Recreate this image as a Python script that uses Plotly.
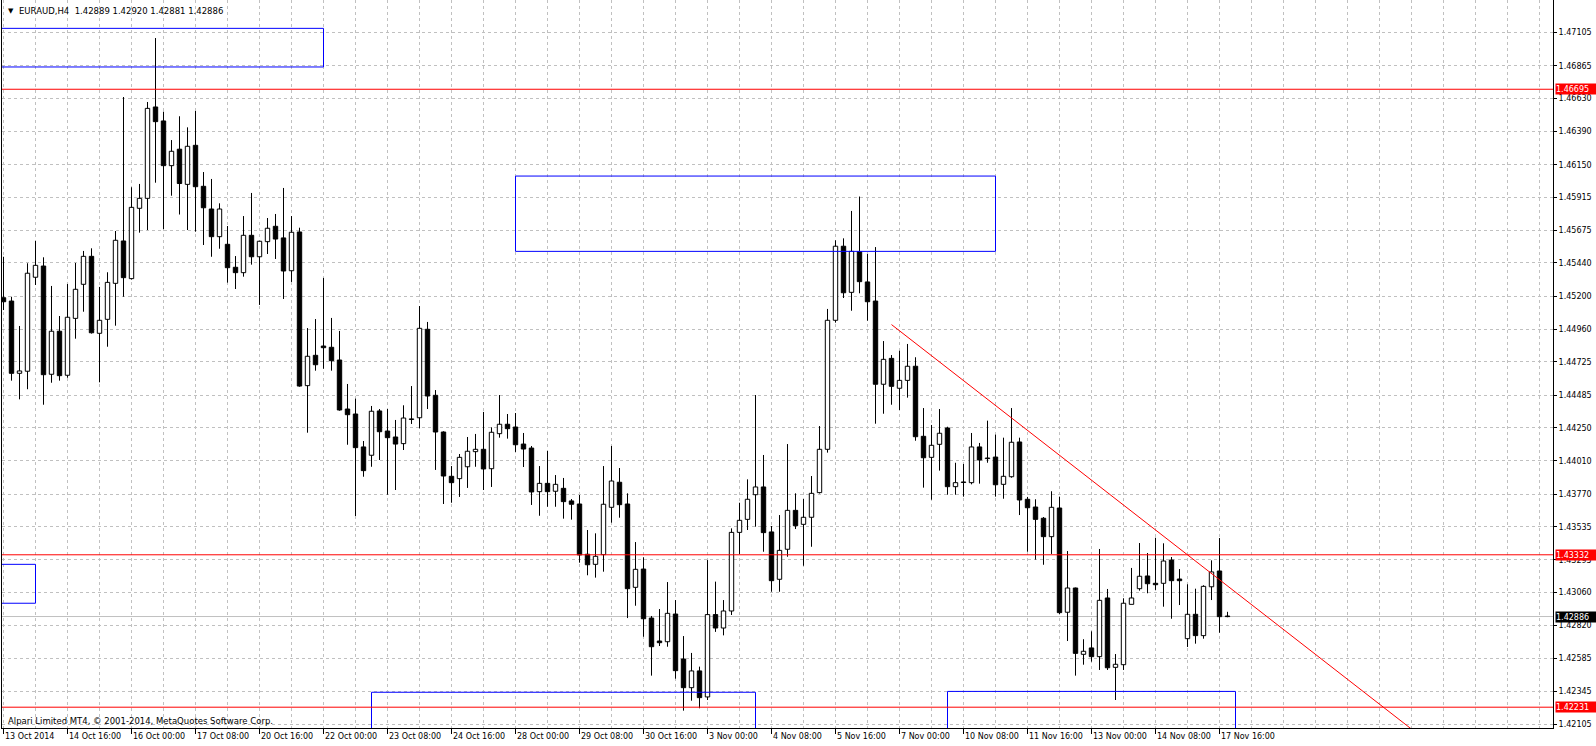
import plotly.graph_objects as go

# ---------------- data (EURAUD, H4) ----------------
opens = [1.45189, 1.45165, 1.44643, 1.44658, 1.45337, 1.45418, 1.44636, 1.44947, 1.44629, 1.45040,
         1.45286, 1.45488, 1.44932, 1.45033, 1.45293, 1.45599, 1.45327, 1.45835, 1.45907, 1.46567,
         1.46466, 1.46143, 1.46262, 1.46008, 1.46290, 1.45994, 1.45830, 1.45630, 1.45575, 1.45409,
         1.45370, 1.45640, 1.45485, 1.45594, 1.45705, 1.45621, 1.45384, 1.45664, 1.44554, 1.44773,
         1.44840, 1.44831, 1.44739, 1.44385, 1.44349, 1.44111, 1.44051, 1.44371, 1.44226, 1.44183,
         1.44135, 1.44311, 1.44322, 1.44961, 1.44484, 1.44219, 1.43899, 1.43882, 1.43968, 1.44077,
         1.44094, 1.43954, 1.44207, 1.44275, 1.44255, 1.44132, 1.44103, 1.43788, 1.43848, 1.43791,
         1.43812, 1.43721, 1.43699, 1.43336, 1.43263, 1.43333, 1.43675, 1.43856, 1.43699, 1.43097,
         1.43229, 1.42875, 1.42709, 1.42704, 1.42904, 1.42579, 1.42372, 1.42493, 1.42305, 1.42900,
         1.42803, 1.42926, 1.43494, 1.43588, 1.43766, 1.43822, 1.43497, 1.43155, 1.43372, 1.43653,
         1.43552, 1.43603, 1.43781, 1.44094, 1.45026, 1.45561, 1.45228, 1.45522, 1.45303, 1.45165,
         1.44564, 1.44751, 1.44535, 1.44592, 1.44694, 1.44188, 1.44036, 1.44130, 1.44248, 1.43824,
         1.43856, 1.43853, 1.44111, 1.44029, 1.44038, 1.43841, 1.43896, 1.44147, 1.43733, 1.43677,
         1.43596, 1.43463, 1.43670, 1.42917, 1.43092, 1.42613, 1.42659, 1.42596, 1.43020, 1.42519,
         1.42538, 1.42974, 1.43087, 1.43179, 1.43126, 1.43126, 1.43294, 1.43157, 1.42726, 1.42902,
         1.42748, 1.43101, 1.43215, 1.42889]
highs = [1.45485, 1.45196, 1.44985, 1.45438, 1.45599, 1.45481, 1.45274, 1.45057, 1.45288, 1.45440,
         1.45527, 1.45546, 1.45267, 1.45373, 1.45671, 1.46639, 1.45987, 1.46011, 1.46603, 1.47065,
         1.46533, 1.46328, 1.46500, 1.46420, 1.46538, 1.46097, 1.46047, 1.45871, 1.45707, 1.45490,
         1.45779, 1.45946, 1.45600, 1.45765, 1.45794, 1.45982, 1.45779, 1.45695, 1.44970, 1.45035,
         1.45332, 1.45043, 1.44949, 1.44566, 1.44460, 1.44154, 1.44407, 1.44385, 1.44385, 1.44306,
         1.44412, 1.44551, 1.45129, 1.45014, 1.44522, 1.44224, 1.43973, 1.44060, 1.44183, 1.44205,
         1.44364, 1.44253, 1.44486, 1.44349, 1.44356, 1.44212, 1.44118, 1.43973, 1.44082, 1.43908,
         1.43887, 1.43735, 1.43764, 1.43511, 1.43487, 1.43973, 1.44118, 1.43959, 1.43776, 1.43424,
         1.43314, 1.42890, 1.42940, 1.43135, 1.43005, 1.42745, 1.42623, 1.42524, 1.43294, 1.43138,
         1.43005, 1.43523, 1.43708, 1.43877, 1.44486, 1.44053, 1.43540, 1.43619, 1.44132, 1.43776,
         1.43735, 1.43901, 1.44262, 1.45108, 1.45604, 1.45618, 1.45816, 1.45920, 1.45505, 1.45555,
         1.44876, 1.44775, 1.44806, 1.44855, 1.44759, 1.44392, 1.44270, 1.44385, 1.44257, 1.43997,
         1.43988, 1.44212, 1.44140, 1.44301, 1.44200, 1.44178, 1.44392, 1.44178, 1.43750, 1.43733,
         1.43605, 1.43791, 1.43752, 1.43359, 1.43095, 1.42722, 1.42779, 1.43374, 1.43085, 1.42615,
         1.43018, 1.43237, 1.43417, 1.43345, 1.43455, 1.43415, 1.43316, 1.43229, 1.43119, 1.43087,
         1.43112, 1.43292, 1.43453, 1.42920]
lows = [1.45100, 1.44590, 1.44455, 1.44528, 1.45281, 1.44416, 1.44575, 1.44590, 1.44611, 1.44893,
        1.45088, 1.44930, 1.44578, 1.44835, 1.44987, 1.45196, 1.45320, 1.45659, 1.45678, 1.46020,
        1.45685, 1.45926, 1.45790, 1.45678, 1.45666, 1.45570, 1.45485, 1.45543, 1.45298, 1.45252,
        1.45341, 1.45428, 1.45137, 1.45505, 1.45469, 1.45180, 1.45303, 1.44546, 1.44214, 1.44662,
        1.44676, 1.44662, 1.44373, 1.44127, 1.43612, 1.43896, 1.43968, 1.44017, 1.43766, 1.43800,
        1.44089, 1.44277, 1.44246, 1.44385, 1.43945, 1.43699, 1.43708, 1.43750, 1.43815, 1.43968,
        1.43800, 1.43822, 1.44178, 1.44171, 1.44075, 1.43966, 1.43692, 1.43614, 1.43679, 1.43679,
        1.43593, 1.43586, 1.43275, 1.43184, 1.43167, 1.43210, 1.43564, 1.43600, 1.42875, 1.42964,
        1.42740, 1.42459, 1.42673, 1.42668, 1.42437, 1.42206, 1.42278, 1.42223, 1.42283, 1.42775,
        1.42750, 1.42897, 1.43338, 1.43511, 1.43535, 1.43354, 1.43065, 1.43065, 1.43318, 1.43518,
        1.43253, 1.43390, 1.43775, 1.44070, 1.45009, 1.45187, 1.45095, 1.45221, 1.45023, 1.44279,
        1.44351, 1.44416, 1.44378, 1.44467, 1.44156, 1.43817, 1.43730, 1.43940, 1.43766, 1.43766,
        1.43752, 1.43841, 1.43846, 1.43997, 1.43752, 1.43737, 1.43889, 1.43619, 1.43354, 1.43297,
        1.43260, 1.43338, 1.42904, 1.42709, 1.42459, 1.42538, 1.42560, 1.42500, 1.42500, 1.42283,
        1.42500, 1.42974, 1.43073, 1.43054, 1.43078, 1.42957, 1.42870, 1.42969, 1.42666, 1.42690,
        1.42726, 1.43005, 1.42769, 1.42881]
closes = [1.45160, 1.44643, 1.44660, 1.45366, 1.45423, 1.44633, 1.44947, 1.44626, 1.45048, 1.45250,
          1.45488, 1.44936, 1.45026, 1.45300, 1.45604, 1.45334, 1.45842, 1.45907, 1.46557, 1.46461,
          1.46143, 1.46247, 1.46014, 1.46283, 1.45991, 1.45839, 1.45630, 1.45830, 1.45406, 1.45370,
          1.45640, 1.45485, 1.45597, 1.45691, 1.45613, 1.45382, 1.45662, 1.44551, 1.44766, 1.44705,
          1.44828, 1.44734, 1.44378, 1.44344, 1.44106, 1.43940, 1.44369, 1.44221, 1.44178, 1.44132,
          1.44320, 1.44312, 1.44968, 1.44479, 1.44219, 1.43901, 1.43853, 1.44036, 1.44080, 1.44094,
          1.43952, 1.44217, 1.44275, 1.44243, 1.44127, 1.44096, 1.43786, 1.43848, 1.43788, 1.43841,
          1.43716, 1.43697, 1.43331, 1.43260, 1.43321, 1.43697, 1.43865, 1.43694, 1.43087, 1.43227,
          1.42870, 1.42668, 1.42697, 1.42909, 1.42495, 1.42372, 1.42493, 1.42300, 1.42900, 1.42803,
          1.42926, 1.43494, 1.43581, 1.43733, 1.43822, 1.43492, 1.43145, 1.43364, 1.43653, 1.43542,
          1.43603, 1.43776, 1.44094, 1.45026, 1.45561, 1.45225, 1.45524, 1.45305, 1.45160, 1.44564,
          1.44744, 1.44549, 1.44592, 1.44694, 1.44185, 1.44033, 1.44123, 1.44210, 1.43824, 1.43853,
          1.43856, 1.44111, 1.44017, 1.44029, 1.43838, 1.43899, 1.44145, 1.43728, 1.43672, 1.43588,
          1.43463, 1.43675, 1.42914, 1.43092, 1.42620, 1.42635, 1.42596, 1.43003, 1.42516, 1.42541,
          1.42982, 1.43020, 1.43177, 1.43123, 1.43116, 1.43287, 1.43145, 1.43145, 1.42902, 1.42748,
          1.43104, 1.43208, 1.42885, 1.42886]

date_label_bars = [0, 8, 16, 24, 32, 40, 48, 56, 64, 72, 80, 88, 96, 104, 112, 120, 128, 136, 144, 152]
date_labels = ["13 Oct 2014", "14 Oct 16:00", "16 Oct 00:00", "17 Oct 08:00", "20 Oct 16:00",
               "22 Oct 00:00", "23 Oct 08:00", "24 Oct 16:00", "28 Oct 00:00", "29 Oct 08:00",
               "30 Oct 16:00", "3 Nov 00:00", "4 Nov 08:00", "5 Nov 16:00", "7 Nov 00:00",
               "10 Nov 08:00", "11 Nov 16:00", "13 Nov 00:00", "14 Nov 08:00", "17 Nov 16:00"]

price_ticks = ["1.47105", "1.46865", "1.46630", "1.46390", "1.46150", "1.45915", "1.45675", "1.45440",
               "1.45200", "1.44960", "1.44725", "1.44485", "1.44250", "1.44010", "1.43770", "1.43535",
               "1.43295", "1.43060", "1.42820", "1.42585", "1.42345", "1.42105"]

hlines_red = [1.46695, 1.43332, 1.42231]
bid_price = 1.42886

# rectangles: (bar_from, bar_to, price_low, price_high)
rect_bar0 = [-6, 64, -6, 46, 118]
rect_bar1 = [40, 124, 4, 94, 154]
rect_lo = [1.46856, 1.45524, 1.42982, 1.41500, 1.41500]
rect_hi = [1.47135, 1.46068, 1.43263, 1.42339, 1.42345]

# trend line anchors (bar, price)
trend_bar = [111, 200]
trend_price = [1.44995, 1.40994]

title_text = "EURAUD,H4\u00a0\u00a01.42889 1.42920 1.42881 1.42886"
copyright_text = "Alpari Limited MT4, \u00a9 2001-2014, MetaQuotes Software Corp."

# ---------------- build ----------------
FONT = "DejaVu Sans"
n = len(opens)
bars = list(range(n))
MIN_H = 0.00004

def body(i):
    lo, hi = min(opens[i], closes[i]), max(opens[i], closes[i])
    h = hi - lo
    if h < MIN_H:
        lo -= (MIN_H - h) / 2
        h = MIN_H
    return lo, h

up_x, up_b, up_h, dn_x, dn_b, dn_h = [], [], [], [], [], []
wx, wy = [], []
for i in bars:
    lo, h = body(i)
    if closes[i] >= opens[i]:
        up_x.append(i); up_b.append(lo); up_h.append(h)
    else:
        dn_x.append(i); dn_b.append(lo); dn_h.append(h)
    top = max(opens[i], closes[i]); bot = min(opens[i], closes[i])
    wx += [i, i, None, i, i, None]
    wy += [highs[i], top, None, bot, lows[i], None]

fig = go.Figure()
fig.add_trace(go.Scatter(x=wx, y=wy, mode="lines", line=dict(color="black", width=1),
                         hoverinfo="skip"))
fig.add_trace(go.Bar(x=up_x, base=up_b, y=up_h, width=0.55,
                     marker=dict(color="white", line=dict(color="black", width=1)), hoverinfo="skip"))
fig.add_trace(go.Bar(x=dn_x, base=dn_b, y=dn_h, width=0.55,
                     marker=dict(color="black", line=dict(color="black", width=1)), hoverinfo="skip"))

# pixel geometry: plot from x=2..1553, y=0..728 ; 8 px per bar
L, R, T, B = 2, 43, 0, 18
W = 1596 - L - R
x0 = -0.1875
x1 = x0 + W / 8.0
y_top = 1.473398
y_bot = y_top - 728 * 0.00007224

grid = "#C0C0C0"
minor_vals = [v for v in range(0, 196, 4) if v not in date_label_bars]
fig.update_xaxes(range=[x0, x1], tickmode="array", tickvals=date_label_bars, ticks="outside",
                 ticklen=5, tickcolor="black", showticklabels=False, showgrid=True,
                 gridcolor=grid, griddash="3px,3px", gridwidth=1, zeroline=False,
                 showline=True, linecolor="black", linewidth=1,
                 minor=dict(tickmode="array", tickvals=minor_vals, showgrid=True,
                            gridcolor=grid, griddash="3px,3px", ticks=""))
fig.update_yaxes(range=[y_bot, y_top], side="right", tickmode="array",
                 tickvals=[float(t) for t in price_ticks], ticktext=price_ticks,
                 ticks="outside", ticklen=3, tickcolor="black", showgrid=True,
                 gridcolor=grid, griddash="3px,3px", gridwidth=1, zeroline=False,
                 showline=True, mirror=True, linecolor="black", linewidth=1,
                 tickfont=dict(family=FONT, size=8, color="black"))

shapes = []
for b0, b1, lo, hi in zip(rect_bar0, rect_bar1, rect_lo, rect_hi):
    shapes.append(dict(type="rect", xref="x", yref="y", x0=b0, x1=b1, y0=lo, y1=hi,
                       line=dict(color="#0000FF", width=1), fillcolor="rgba(0,0,0,0)"))
for p in hlines_red:
    shapes.append(dict(type="line", xref="paper", yref="y", x0=0, x1=1, y0=p, y1=p,
                       line=dict(color="#FF0000", width=1)))
shapes.append(dict(type="line", xref="paper", yref="y", x0=0, x1=1, y0=bid_price, y1=bid_price,
                   line=dict(color="#C0C0C0", width=1), layer="below"))
shapes.append(dict(type="line", xref="x", yref="y", x0=trend_bar[0], x1=trend_bar[1],
                   y0=trend_price[0], y1=trend_price[1], line=dict(color="#FF0000", width=1)))

ann = []
for b, lab in zip(date_label_bars, date_labels):
    ann.append(dict(x=b, xref="x", y=0, yref="paper", xanchor="left", yanchor="top",
                    xshift=-1, yshift=-2, text=lab, showarrow=False,
                    font=dict(family=FONT, size=8, color="black")))
for p, col in zip(hlines_red + [bid_price], ["#FF0000"] * 3 + ["#000000"]):
    ann.append(dict(x=1, xref="paper", y=p, yref="y", xanchor="left", yanchor="middle",
                    xshift=2, text="%.5f" % p, showarrow=False, bgcolor=col, width=40, height=10,
                    align="left", borderpad=0, font=dict(family=FONT, size=8, color="white")))
ann.append(dict(x=0, xref="paper", y=1, yref="paper", xanchor="left", yanchor="middle",
                xshift=4, yshift=-11, text="\u25bc", showarrow=False,
                font=dict(family=FONT, size=7, color="black")))
ann.append(dict(x=0, xref="paper", y=1, yref="paper", xanchor="left", yanchor="middle",
                xshift=15, yshift=-11, text=title_text, showarrow=False,
                font=dict(family=FONT, size=8.5, color="black")))
ann.append(dict(x=0, xref="paper", y=0, yref="paper", xanchor="left", yanchor="middle",
                xshift=4, yshift=7, text=copyright_text, showarrow=False,
                font=dict(family=FONT, size=8.5, color="black")))

fig.update_layout(width=1596, height=746, margin=dict(l=L, r=R, t=T, b=B, pad=0),
                  paper_bgcolor="white", plot_bgcolor="white", showlegend=False,
                  barmode="overlay", shapes=shapes, annotations=ann, hovermode=False)

fig.write_html("out.html")
